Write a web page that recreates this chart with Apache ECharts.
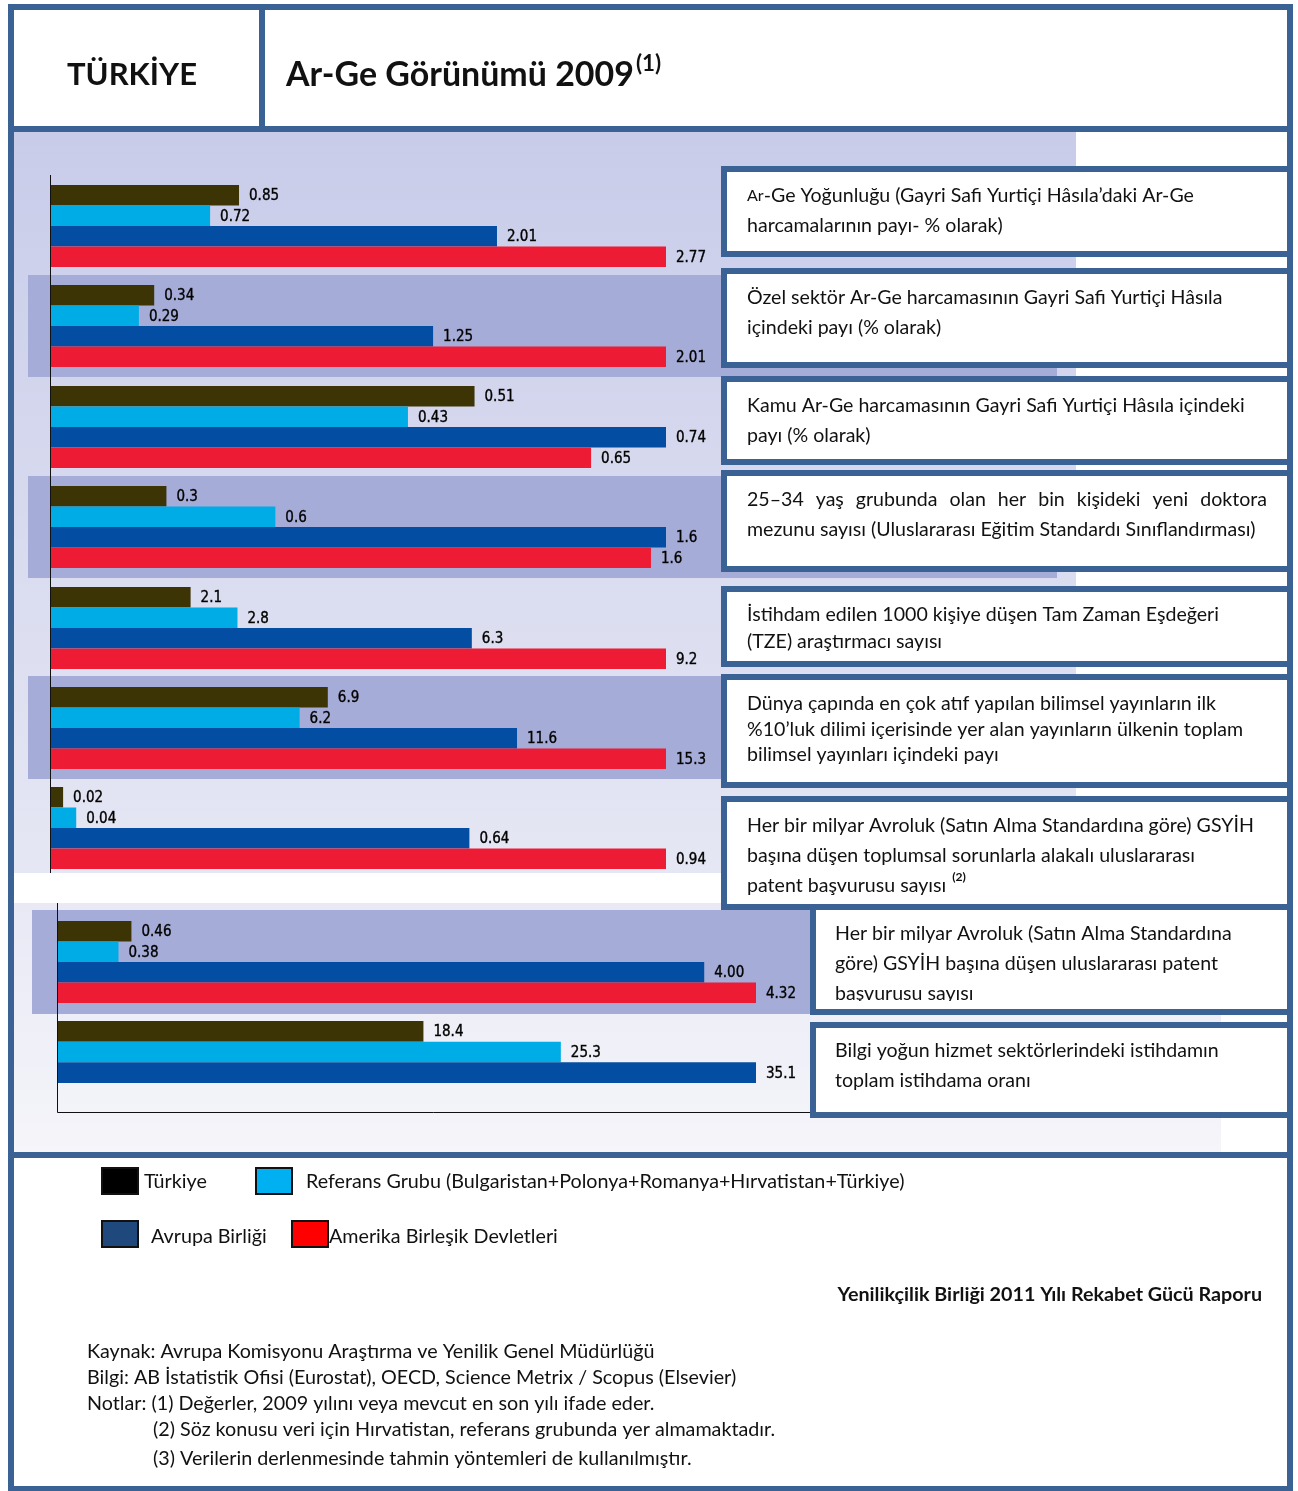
<!DOCTYPE html>
<html><head><meta charset="utf-8">
<script src="https://cdn.jsdelivr.net/npm/echarts@6/dist/echarts.min.js"></script>
<style>html,body{margin:0;padding:0;background:#fff}#c{width:1298px;height:1491px}</style>
</head><body><div id="c"></div><script>
// ---------------- DATA ----------------
const categories = ['Türkiye', 'Referans Grubu (Bulgaristan+Polonya+Romanya+Hırvatistan+Türkiye)', 'Avrupa Birliği', 'Amerika Birleşik Devletleri'];
const turkiye  = [0.85, 0.34, 0.51, 0.31, 2.1, 6.9, 0.02, 0.46, 18.4];
const referans = [0.72, 0.29, 0.43, 0.6, 2.8, 6.2, 0.04, 0.38, 25.3];
const ab       = [2.01, 1.25, 0.74, 1.64, 6.3, 11.6, 0.64, 4.00, 35.1];
const abd      = [2.77, 2.01, 0.65, 1.6, 9.2, 15.3, 0.94, 4.32, null];
const decimals = [2, 2, 2, 1, 1, 1, 2, 2, 1];
const indicators = [
  ['{s|Ar}-Ge Yoğunluğu (Gayri Safi Yurtiçi Hâsıla’daki Ar-Ge', 'harcamalarının payı- % olarak)'],
  ['Özel sektör Ar-Ge harcamasının Gayri Safi Yurtiçi Hâsıla', 'içindeki payı (% olarak)'],
  ['Kamu Ar-Ge harcamasının Gayri Safi Yurtiçi Hâsıla içindeki', 'payı (% olarak)'],
  ['25–34 yaş grubunda olan her bin kişideki yeni doktora', 'mezunu sayısı (Uluslararası Eğitim Standardı Sınıflandırması)'],
  ['İstihdam edilen 1000 kişiye düşen Tam Zaman Eşdeğeri', '(TZE) araştırmacı sayısı'],
  ['Dünya çapında en çok atıf yapılan bilimsel yayınların ilk', '%10’luk dilimi içerisinde yer alan yayınların ülkenin toplam', 'bilimsel yayınları içindeki payı'],
  ['Her bir milyar Avroluk (Satın Alma Standardına göre) GSYİH', 'başına düşen toplumsal sorunlarla alakalı uluslararası', 'patent başvurusu sayısı'],
  ['Her bir milyar Avroluk (Satın Alma Standardına', 'göre) GSYİH başına düşen uluslararası patent', 'başvurusu sayısı'],
  ['Bilgi yoğun hizmet sektörlerindeki istihdamın', 'toplam istihdama oranı']
];
const countryTitle = 'TÜRKİYE';
const chartTitle = 'Ar-Ge Görünümü 2009';
const titleNote = '(1)';
const reportTitle = 'Yenilikçilik Birliği 2011 Yılı Rekabet Gücü Raporu';
const sourceLines = [
  'Kaynak: Avrupa Komisyonu Araştırma ve Yenilik Genel Müdürlüğü',
  'Bilgi: AB İstatistik Ofisi (Eurostat), OECD, Science Metrix / Scopus (Elsevier)',
  'Notlar: (1) Değerler, 2009 yılını veya mevcut en son yılı ifade eder.',
  '(2) Söz konusu veri için Hırvatistan, referans grubunda yer almamaktadır.',
  '(3) Verilerin derlenmesinde tahmin yöntemleri de kullanılmıştır.'
];

// ---------------- STYLE / LAYOUT ----------------
const barColors = ['#3d3406', '#00ace6', '#034ea2', '#ed1b34'];
const legendColors = ['#000000', '#00b0f0', '#1f497d', '#ff0000'];
const frame = '#3b6295';
const groupLayout = [
  {left: 50, top: 185, width: 616, height: 82},
  {left: 50, top: 285, width: 616, height: 82},
  {left: 50, top: 386, width: 616, height: 82},
  {left: 50, top: 486, width: 616, height: 82},
  {left: 50, top: 587, width: 616, height: 82},
  {left: 50, top: 687, width: 616, height: 82},
  {left: 50, top: 787, width: 616, height: 82},
  {left: 57, top: 921, width: 699, height: 82},
  {left: 57, top: 1021, width: 699, height: 62}
];
const boxLayout = [
  {x: 721, y: 166, w: 572, h: 91, tx: 747, ty: 196, lh: 30},
  {x: 721, y: 268, w: 572, h: 100, tx: 747, ty: 298, lh: 30},
  {x: 721, y: 376, w: 572, h: 89, tx: 747, ty: 406, lh: 30},
  {x: 721, y: 470, w: 572, h: 102, tx: 747, ty: 500, lh: 30, justify: 1267},
  {x: 721, y: 586, w: 572, h: 81, tx: 747, ty: 615, lh: 27},
  {x: 721, y: 674, w: 572, h: 114, tx: 747, ty: 704, lh: 25.5},
  {x: 721, y: 796, w: 572, h: 114, tx: 747, ty: 826, lh: 30},
  {x: 810, y: 904, w: 483, h: 111, tx: 835, ty: 934, lh: 30},
  {x: 810, y: 1022, w: 483, h: 96, tx: 835, ty: 1051, lh: 30}
];

const FAM = 'Lato, "Open Sans", sans-serif';
const ctx = document.createElement('canvas').getContext('2d');
function measure(t, size, weight) { ctx.font = (weight || 'normal') + ' ' + size + 'px ' + FAM; return ctx.measureText(t).width; }
function fit(t, target, weight) { return 100 * target / measure(t, 100, weight); }

const boxSize = fit('Özel sektör Ar-Ge harcamasının Gayri Safi Yurtiçi Hâsıla', 476, 'normal');
const noteSize = fit(sourceLines[0], 568, 'normal');
const reportSize = fit(reportTitle, 425, 'bold');
const titleSize = fit(chartTitle, 348, 'bold');
const countrySize = fit(countryTitle, 130, 'bold');

const G = [];
function rect(x, y, w, h, fill, z) { G.push({type: 'rect', silent: true, z: z, shape: {x: x, y: y, width: w, height: h}, style: {fill: fill}}); }
function txt(x, y, t, size, weight, z, extra) {
  const st = Object.assign({text: t, x: x, y: y, fill: '#111', fontSize: size, fontWeight: weight || 'normal', fontFamily: FAM,
    align: 'left', verticalAlign: 'middle', textAlign: 'left', textVerticalAlign: 'middle'}, extra || {});
  G.push({type: 'text', silent: true, z: z || 8, style: st});
}
function line(x1, y1, x2, y2, z) { G.push({type: 'line', silent: true, z: z || 9, shape: {x1: x1, y1: y1, x2: x2, y2: y2}, style: {stroke: '#111', lineWidth: 1}}); }

// backgrounds
rect(14, 132, 1062, 741, {type: 'linear', x: 0, y: 0, x2: 0, y2: 1, colorStops: [{offset: 0, color: '#c8cce9'}, {offset: 1, color: '#e6e7f4'}]}, 0);
rect(14, 903, 1207, 250, {type: 'linear', x: 0, y: 0, x2: 0, y2: 1, colorStops: [{offset: 0, color: '#e8e9f5'}, {offset: 1, color: '#f5f5fa'}]}, 0);
[[275, 102], [476, 102], [676, 103]].forEach(b => rect(28, b[0], 1029, b[1], '#a5acd8', 1));
rect(32, 910, 780, 104, '#a5acd8', 1);

// axes lines
line(50.5, 175, 50.5, 873);
line(57.5, 903, 57.5, 1112.5);
line(57.5, 1112.5, 810, 1112.5);

// indicator boxes
boxLayout.forEach((b, i) => {
  G.push({type: 'rect', silent: true, z: 6, shape: {x: b.x + 3, y: b.y + 3, width: b.w - 6, height: b.h - 6}, style: {fill: '#fff', stroke: frame, lineWidth: 6}});
  indicators[i].forEach((ln, j) => {
    const y = b.ty + j * b.lh;
    if (b.justify && j === 0) {
      const words = ln.split(' ');
      const ws = words.map(w => measure(w, boxSize));
      const gap = (b.justify - b.tx - ws.reduce((a, c) => a + c, 0)) / (words.length - 1);
      let x = b.tx;
      words.forEach((w, k) => { txt(x, y, w, boxSize, 'normal', 8); x += ws[k] + gap; });
    } else {
      txt(b.tx, y, ln, boxSize, 'normal', 8, {rich: {s: {fontSize: boxSize * 0.82, fontFamily: FAM, fill: '#111'}}});
    }
  });
});
// superscript note on box 7
txt(747 + measure(indicators[6][2] + ' ', boxSize) + 1, 877, '(2)', boxSize * 0.62, 'bold', 8);
// clipped last line in box 8
rect(816, 1001, 471, 8, '#fff', 8.5);

// frame borders
rect(8, 4, 1285, 6, frame, 10);
rect(8, 4, 6, 1487, frame, 10);
rect(1287, 4, 6, 1487, frame, 10);
rect(8, 1486, 1285, 6, frame, 10);
rect(8, 126, 1285, 6, frame, 10);
rect(259, 4, 6, 128, frame, 10);
rect(8, 1152, 1285, 6, frame, 10);

// header texts
txt(67, 75, countryTitle, countrySize, 'bold', 8);
txt(286, 75, chartTitle, titleSize, 'bold', 8);
txt(288 + measure(chartTitle, titleSize, 'bold'), 64, titleNote, titleSize * 0.66, 'bold', 8);

// legend
const legendPos = [
  {sx: 101, sy: 1167, tx: 144, ty: 1182},
  {sx: 255, sy: 1167, tx: 306, ty: 1182},
  {sx: 101, sy: 1220, tx: 151, ty: 1237},
  {sx: 291, sy: 1220, tx: 329, ty: 1237}
];
categories.forEach((c, k) => {
  const p = legendPos[k];
  G.push({type: 'rect', silent: true, z: 8, shape: {x: p.sx + 1, y: p.sy + 1, width: 36, height: 26}, style: {fill: legendColors[k], stroke: '#111', lineWidth: 2}});
  txt(p.tx, p.ty, c, noteSize, 'normal', 9);
});

// report + sources
txt(1262, 1295, reportTitle, reportSize, 'bold', 8, {align: 'right', textAlign: 'right'});
const srcY = [1352, 1378, 1404, 1430, 1459];
sourceLines.forEach((s, i) => txt(i < 3 ? 87 : 153, srcY[i], s, noteSize, 'normal', 8));

// ---------------- CHART ----------------
const grids = [], xAxes = [], yAxes = [], series = [];
for (let i = 0; i < 9; i++) {
  const vals = [turkiye[i], referans[i], ab[i], abd[i]];
  const idx = [0, 1, 2, 3].filter(k => vals[k] != null);
  const L = groupLayout[i];
  grids.push({left: L.left, top: L.top, width: L.width, height: L.height, show: false});
  xAxes.push({gridIndex: i, type: 'value', min: 0, max: Math.max.apply(null, idx.map(k => vals[k])), show: false});
  yAxes.push({gridIndex: i, type: 'category', inverse: true, data: idx.map(k => categories[k]), show: false});
  series.push({
    type: 'bar', xAxisIndex: i, yAxisIndex: i, barWidth: '100%', silent: true, animation: false, z: 2,
    data: idx.map(k => ({value: vals[k], itemStyle: {color: barColors[k]}})),
    label: {show: true, position: 'right', distance: 10, offset: [0, 1],
      formatter: p => Number(p.value).toFixed(decimals[i]),
      fontFamily: '"Liberation Sans Narrow", "DejaVu Sans Condensed", sans-serif', fontSize: 15, color: '#000',
      textBorderColor: '#222', textBorderWidth: 0.4}
  });
}

const chart = echarts.init(document.getElementById('c'), null, {renderer: 'canvas'});
chart.setOption({
  backgroundColor: '#ffffff',
  animation: false,
  grid: grids, xAxis: xAxes, yAxis: yAxes, series: series,
  graphic: {elements: G}
});
</script></body></html>
